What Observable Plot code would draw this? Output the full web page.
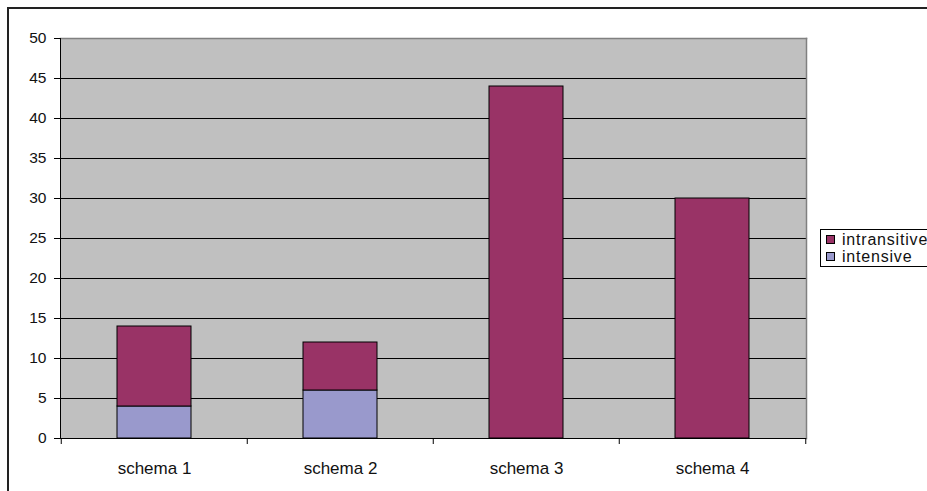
<!DOCTYPE html>
<html>
<head>
<meta charset="utf-8">
<script src="https://cdn.jsdelivr.net/npm/d3@7"></script>
<script src="https://cdn.jsdelivr.net/npm/@observablehq/plot@0.6"></script>
<style>
  html, body { margin: 0; padding: 0; background: #fff; }
  #wrap { position: relative; width: 927px; height: 491px; overflow: hidden; font-family: "Liberation Sans", Arial, sans-serif; }
  #border { position: absolute; left: 7px; top: 7px; width: 940px; height: 500px; border: 2px solid #222; box-sizing: border-box; }
  #legend { position: absolute; left: 820px; top: 229px; width: 130px; height: 38px; border: 1px solid #000; box-sizing: border-box; background: #fff; font-size: 16px; letter-spacing: 0.8px; color: #111; }
  .row { position: absolute; left: 5px; height: 17px; line-height: 17px; white-space: nowrap; }
  .sw { display: inline-block; width: 7px; height: 7px; border: 1px solid #000; margin-right: 7px; vertical-align: 1px; }
  svg { position: absolute; left: 0; top: 0; }
</style>
</head>
<body>
<div id="wrap">
  <div id="chart"></div>
  <div id="border"></div>
  <div id="legend"></div>
</div>
<script>
const categories = ["schema 1", "schema 2", "schema 3", "schema 4"];
const intensive = [4, 6, 0, 0];
const intransitive = [10, 6, 44, 30];
const seriesNames = ["intensive", "intransitive"];
const seriesColors = ["#9999cc", "#993366"];
const yTicks = [0, 5, 10, 15, 20, 25, 30, 35, 40, 45, 50];

const table = [];
categories.forEach((c, i) => {
  table.push({cat: c, series: "intensive", value: intensive[i]});
  table.push({cat: c, series: "intransitive", value: intransitive[i]});
});

const W = 927, H = 491, mL = 60, mR = 121, mT = 38, mB = 53;
const step = (W - mL - mR) / categories.length;

const chart = Plot.plot({
  width: W,
  height: H,
  marginLeft: mL,
  marginRight: mR,
  marginTop: mT,
  marginBottom: mB,
  style: {fontFamily: "'Liberation Sans', Arial, sans-serif", fontSize: "15px", color: "#111", background: "transparent"},
  x: {domain: categories, paddingInner: 0.6, paddingOuter: 0.3, label: null},
  y: {domain: [0, 50], label: null},
  color: {domain: seriesNames, range: seriesColors},
  marks: [
    Plot.frame({fill: "#c0c0c0", stroke: null}),
    Plot.gridY(yTicks, {stroke: "#000", strokeOpacity: 1, strokeWidth: 1}),
    Plot.frame({anchor: "top", stroke: "#808080", strokeWidth: 1.5}),
    Plot.frame({anchor: "right", stroke: "#808080", strokeWidth: 1.5}),
    Plot.barY(table.filter(d => d.value > 0), Plot.stackY({order: seriesNames}, {x: "cat", y: "value", fill: "series", stroke: "#000", strokeWidth: 1})),
    Plot.frame({anchor: "left", stroke: "#000", strokeWidth: 1}),
    Plot.ruleY([0], {stroke: "#000", strokeWidth: 1}),
    Plot.axisY(yTicks, {tickSize: 6, tickPadding: 8, fontSize: 15.5, stroke: "#000", style: {letterSpacing: "1px"}}),
    Plot.axisX({tickSize: 0, tickPadding: 23, fontSize: 17, style: {letterSpacing: "0.6px"}}),
    Plot.axisX({tickSize: 6, text: null, dx: -step / 2, stroke: "#000"}),
    Plot.axisX([categories[categories.length - 1]], {tickSize: 6, text: null, dx: step / 2, stroke: "#000"})
  ]
});
document.getElementById("chart").appendChild(chart);

const legend = document.getElementById("legend");
const legendOrder = ["intransitive", "intensive"];
legendOrder.forEach((name, i) => {
  const row = document.createElement("div");
  row.className = "row";
  row.style.top = (1 + i * 17) + "px";
  const sw = document.createElement("span");
  sw.className = "sw";
  sw.style.background = seriesColors[seriesNames.indexOf(name)];
  row.appendChild(sw);
  row.appendChild(document.createTextNode(name));
  legend.appendChild(row);
});
</script>
</body>
</html>
